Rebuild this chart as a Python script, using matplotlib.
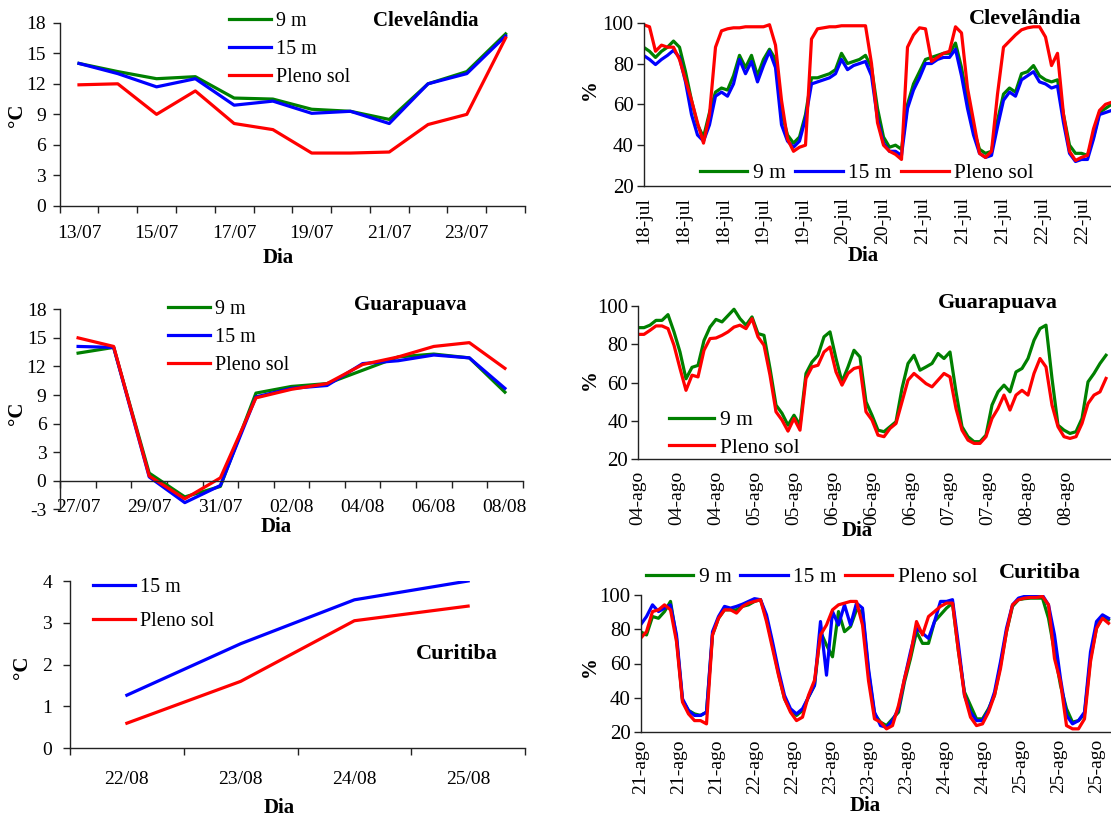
import numpy as np
import matplotlib
matplotlib.use('Agg')
import matplotlib.pyplot as plt

plt.rcParams['font.family'] = ['Liberation Serif', 'DejaVu Serif']
plt.rcParams['axes.unicode_minus'] = False

W, H = 1111, 819
VERDE = '#008000'
AZUL = '#0000ff'
VERMELHO = '#ff0000'

# --- temperatura media diaria (graficos da esquerda) ---
cle_dias = ['13/07', '14/07', '15/07', '16/07', '17/07', '18/07',
            '19/07', '20/07', '21/07', '22/07', '23/07', '24/07']
cle_t9 = [14.0, 13.2, 12.5, 12.7, 10.6, 10.5, 9.5, 9.3, 8.5, 12.0, 13.2, 16.9]
cle_t15 = [14.0, 13.0, 11.7, 12.5, 9.9, 10.3, 9.1, 9.3, 8.1, 12.0, 13.0, 16.7]
cle_tsol = [11.9, 12.0, 9.0, 11.3, 8.1, 7.5, 5.2, 5.2, 5.3, 8.0, 9.0, 16.5]

gua_dias = ['27/07', '28/07', '29/07', '30/07', '31/07', '01/08', '02/08',
            '03/08', '04/08', '05/08', '06/08', '07/08', '08/08']
gua_t9 = [13.4, 14.0, 0.8, -1.7, -0.6, 9.2, 9.9, 10.2, 11.6, 13.0, 13.3, 12.9, 9.3]
gua_t15 = [14.1, 14.0, 0.4, -2.3, -0.5, 8.8, 9.7, 10.0, 12.3, 12.6, 13.2, 12.9, 9.7]
gua_tsol = [15.0, 14.1, 0.5, -1.9, 0.3, 8.7, 9.6, 10.2, 12.2, 13.0, 14.1, 14.5, 11.8]

cur_dias = ['22/08', '23/08', '24/08', '25/08']
cur_t15 = [1.27, 2.5, 3.55, 4.0]
cur_tsol = [0.6, 1.6, 3.05, 3.4]

# --- umidade relativa (graficos da direita), leituras em sequencia ---
cle_rot = ['18-jul', '18-jul', '18-jul', '19-jul', '19-jul', '20-jul',
           '20-jul', '21-jul', '21-jul', '21-jul', '22-jul', '22-jul']
cle_ur9 = [88, 86, 83, 86, 88, 91, 88, 76, 62, 50, 44, 56, 66, 68, 67, 74, 84, 78, 84, 74,
           82, 87, 82, 56, 45, 41, 44, 55, 73, 73, 74, 75, 77, 85, 80, 81, 82, 84, 78, 58,
           44, 39, 40, 38, 60, 70, 76, 82, 83, 84, 85, 85, 90, 78, 62, 48, 38, 36, 37, 52,
           65, 68, 66, 75, 76, 79, 74, 72, 71, 72, 55, 40, 36, 36, 35, 44, 56, 58, 60]
cle_ur15 = [84, 82, 79.5, 82, 84, 86.5, 83, 71, 55, 45, 42, 50, 64, 66, 64, 70, 82, 75, 81, 71,
            79, 86, 78, 50, 42, 39, 42, 53, 70, 71, 72, 73, 75, 82, 77, 79, 80, 81, 74, 53,
            41, 37, 37, 35, 58, 67, 73, 80, 80, 82, 83, 83, 87, 74, 58, 45, 36, 34, 35, 49,
            62, 66, 64, 72, 74, 76, 71, 70, 68, 69, 51, 36, 32, 33, 33, 43, 55, 56, 57]
cle_ursol = [99, 98, 86, 89, 88, 88, 82, 72, 62, 51, 41, 55, 88, 96, 97, 97.5, 97.5, 98, 98, 98,
             98, 99, 89, 62, 43, 37, 39, 40, 92, 97, 97.5, 98, 98, 98.5, 98.5, 98.5, 98.5, 98.5, 80, 51,
             40, 37, 35.5, 33, 88, 94, 97.5, 97, 81, 83, 85, 86, 98, 95, 68, 52, 36, 34, 37, 65,
             88, 91, 94, 96.5, 97.5, 98, 98, 93, 79, 85, 55, 37, 32.5, 34, 35, 48, 57, 60, 61]

gua_rot = ['04-ago', '04-ago', '04-ago', '05-ago', '05-ago', '06-ago',
           '06-ago', '06-ago', '07-ago', '07-ago', '08-ago', '08-ago']
gua_ur9 = [88.7, 88.7, 90, 92.5, 92.5, 95.5, 86.5, 76, 62, 68, 69, 82, 89, 93, 91.7, 95, 98.3, 93.4, 90, 94.3,
           85.6, 84.7, 67.4, 48.3, 44, 37.8, 43, 37.8, 64.8, 70.8, 74.3, 83.9, 86.5, 72.6, 60.4, 68.2, 76.9, 73.4, 50, 43,
           35.2, 34.4, 37, 39.6, 57, 70, 74.3, 66.5, 68.2, 70, 75.2, 72.6, 76, 55.2, 37, 31.8, 29.2, 29.2, 32.6, 48.3,
           55.2, 58.7, 55.2, 65.6, 67.4, 72.6, 82.1, 88.2, 90, 62.2, 37.8, 35.2, 33.5, 34.4, 41.3, 60.4, 64.8, 70, 74.3]
gua_ursol = [85.2, 85.2, 87.3, 89.6, 89.6, 88.2, 79.5, 67.4, 56, 63.9, 63, 76.9, 83, 83.3, 84.7, 86.5, 89, 90, 88.2, 93.4,
             83.9, 79.5, 63.9, 44.8, 40.5, 34.7, 41.3, 35.2, 62.2, 68.2, 69.1, 76, 78.6, 65.6, 58.7, 64.8, 67.4, 68.2, 44.8, 40.5,
             32.6, 31.8, 36.1, 38.7, 50, 61.3, 64.8, 62.2, 59.5, 57.8, 61.3, 64.8, 63, 46.5, 35.2, 30, 28.3, 28.3, 31.8, 41.3,
             46.5, 53.5, 45.7, 53.5, 56, 53.5, 64.8, 72.6, 68.2, 48.3, 37, 31.8, 30.9, 31.8, 38.7, 49.1, 53.5, 55.2, 62.2]

cur_rot = ['21-ago', '21-ago', '21-ago', '22-ago', '22-ago', '23-ago', '23-ago',
           '23-ago', '24-ago', '24-ago', '25-ago', '25-ago', '25-ago']
cur_ur9 = [78.5, 76.6, 87.3, 86.3, 90.2, 96.1, 74.6, 38.5, 32.7, 30.7, 29.8, 31.7, 76.6, 86.3, 91.2, 91.2, 91.2, 93.2, 94.1, 96.1,
           97.1, 86.3, 70.7, 54.1, 39.5, 32.7, 29.8, 32.7, 40.5, 47.3, 78.5, 70.7, 63.9, 90.2, 78.5, 81.5, 91.2, 90.2, 55.1, 30.7,
           25.9, 23.9, 27.8, 31.7, 49.3, 62.9, 78.5, 71.7, 71.7, 84.4, 88.3, 92.2, 95.1, 66.8, 43.4, 35.6, 27.8, 27.8, 33.7, 41.5,
           59, 78.5, 93.2, 97.1, 97.7, 98, 98, 98, 86.3, 66.8, 47.3, 33.7, 25.9, 26.8, 30.7, 62.9, 80.5, 87.3, 85.4]
cur_ur15 = [82.4, 87.3, 94.1, 90.2, 92.2, 94.1, 76.6, 39.5, 32.7, 29.8, 29.8, 31.7, 78.5, 87.3, 93.2, 92.2, 93.2, 94.5, 96.1, 97.7,
            97.1, 88.3, 72.7, 56.1, 41.5, 33.7, 30.7, 33.7, 40.5, 47.3, 84.4, 53.2, 90.2, 82.4, 94.1, 82.4, 95.1, 92.2, 57.1, 31.7,
            23.9, 22.9, 26.8, 33.7, 51.2, 66.8, 80.5, 77.6, 74.6, 84.4, 96.1, 96.1, 97.1, 70.7, 41.5, 31.7, 26.8, 26.8, 32.7, 43.4,
            61, 80.5, 94.1, 98, 99, 99.6, 99.6, 99.6, 94.1, 76.6, 51.2, 29.8, 24.9, 26.8, 31.7, 66.8, 84.4, 88.3, 86.3]
cur_ursol = [74.6, 78.5, 90.2, 91.2, 94.1, 91.2, 72.7, 37.6, 30.7, 26.8, 26.8, 24.9, 76.6, 86.3, 91.2, 91.2, 89.3, 93.2, 95.1, 96.1,
             97.1, 84.4, 68.8, 53.2, 39.5, 31.7, 26.8, 28.8, 41.5, 50.2, 76.6, 82.4, 91.2, 94.1, 95.1, 96.1, 96.1, 82.4, 50, 27.8,
             25.9, 22, 23.9, 35.6, 51.2, 64.9, 84.4, 76.6, 87.3, 90.2, 93.2, 95.1, 95.1, 66.8, 41.5, 28.8, 23.9, 24.9, 31.7, 41.5,
             57.1, 78.5, 94.1, 97.1, 98, 98.4, 98.4, 99, 94.1, 62.9, 49.3, 23.9, 22, 22, 27.8, 61, 80.5, 86.3, 83.4]

fig = plt.figure(figsize=(W / 100, H / 100), dpi=100)


def caixa(left, top, right, bottom):
    return fig.add_axes([left / W, 1 - bottom / H, (right - left) / W, (bottom - top) / H])


def texto(x, y, s, **kw):
    fig.text(x / W, 1 - y / H, s, ha='center', va='center', **kw)


def estilo(ax, ypad, fs):
    for s in ['top', 'right']:
        ax.spines[s].set_visible(False)
    for s in ['left', 'bottom']:
        ax.spines[s].set_linewidth(1.0)
        ax.spines[s].set_color('#222222')
    ax.tick_params(labelsize=fs, length=5, width=1, direction='out', colors='#222222')
    ax.tick_params(axis='y', pad=ypad)
    ax.tick_params(labelcolor='black')


def legenda(ax, x, y, fs, ncol=1, spacing=0.5, colsp=0.6, hl=2.2):
    ax.legend(loc='upper left', bbox_to_anchor=(x / W, 1 - y / H), bbox_transform=fig.transFigure,
              frameon=False, fontsize=fs, ncol=ncol, handlelength=hl, handletextpad=0.25,
              labelspacing=spacing, columnspacing=colsp, borderpad=0, borderaxespad=0)


def painel_temp(ax, dias, series, yticks, passo, pad):
    x = np.arange(len(dias))
    for vals, cor, nome in series:
        ax.plot(x, vals, color=cor, lw=2.3, label=nome)
    ax.set_xlim(-0.5, len(dias) - 0.5)
    ax.set_ylim(yticks[0], yticks[-1])
    ax.set_yticks(yticks)
    ax.set_xticks(np.arange(len(dias) + 1) - 0.5)
    ax.set_xticklabels([])
    ax.set_xticks(x[::passo], minor=True)
    ax.set_xticklabels(dias[::passo], minor=True)
    ax.tick_params(axis='x', which='minor', length=0, pad=pad, labelsize=14)


def painel_ur(ax, series, rotulos, passo_tick, xmax, pad):
    for vals, cor, nome in series:
        ax.plot(np.arange(len(vals)), vals, color=cor, lw=2.3, label=nome)
    ax.set_xlim(0, xmax)
    ax.set_ylim(20, 100)
    ax.set_yticks(range(20, 101, 20))
    ax.set_xticks(np.arange(len(rotulos)) * passo_tick)
    ax.set_xticklabels(rotulos, rotation=90)
    ax.tick_params(axis='x', length=0, pad=pad, labelsize=14)


bold = dict(fontsize=15, fontweight='bold')
bold_dir = dict(fontsize=16, fontweight='bold')

# Clevelandia - temperatura
ax1 = caixa(59.6, 22.7, 525, 206)
estilo(ax1, 5, 14)
painel_temp(ax1, cle_dias, [(cle_t9, VERDE, '9 m'), (cle_t15, AZUL, '15 m'), (cle_tsol, VERMELHO, 'Pleno sol')],
            np.arange(0, 19, 3), 2, 14)
legenda(ax1, 229, 12, 14.5, spacing=0.45, hl=2.1)
texto(426, 21, 'Clevelândia', **bold)
texto(17, 115, '°C', rotation=90, **bold)
texto(278, 258, 'Dia', **bold)

# Clevelandia - umidade
ax2 = caixa(643.5, 22.7, W, 186)
estilo(ax2, 2, 15)
painel_ur(ax2, [(cle_ur9, VERDE, '9 m'), (cle_ur15, AZUL, '15 m'), (cle_ursol, VERMELHO, 'Pleno sol')],
          cle_rot, 39.9 / 6, (W - 643.5) / 6, 8)
legenda(ax2, 700, 163, 15.5, ncol=3, colsp=0.45, hl=2.2)
texto(1025, 19, 'Clevelândia', **bold_dir)
texto(590, 90, '%', rotation=90, **bold)
texto(863, 256, 'Dia', **bold)

# Guarapuava - temperatura
ax3 = caixa(60.3, 309.3, 522.7, 509.3)
estilo(ax3, 5, 14)
painel_temp(ax3, gua_dias, [(gua_t9, VERDE, '9 m'), (gua_t15, AZUL, '15 m'), (gua_tsol, VERMELHO, 'Pleno sol')],
            np.arange(-3, 19, 3), 2, 13)
ax3.spines['bottom'].set_position(('data', 0))
legenda(ax3, 168, 300, 14.5, spacing=0.45, hl=2.1)
texto(410, 305, 'Guarapuava', **bold)
texto(17, 413, '°C', rotation=90, **bold)
texto(276, 527, 'Dia', **bold)

# Guarapuava - umidade
ax4 = caixa(638, 306, W, 459.3)
estilo(ax4, 2, 15)
painel_ur(ax4, [(gua_ur9, VERDE, '9 m'), (gua_ursol, VERMELHO, 'Pleno sol')],
          gua_rot, 38.9 / 6, (W - 638) / 6, 8)
legenda(ax4, 669, 410, 15.5, spacing=0.35, hl=2.1)
texto(998, 303, 'Guarapuava', **bold_dir)
texto(590, 380, '%', rotation=90, **bold)
texto(857, 531, 'Dia', **bold)

# Curitiba - temperatura
ax5 = caixa(70, 581, 525, 748.3)
estilo(ax5, 8, 14)
painel_temp(ax5, cur_dias, [(cur_t15, AZUL, '15 m'), (cur_tsol, VERMELHO, 'Pleno sol')],
            np.arange(0, 5, 1), 1, 16)
legenda(ax5, 93, 578, 14.5, spacing=0.75, hl=2.1)
texto(457, 654, 'Curitiba', **bold_dir)
texto(22, 667, '°C', rotation=90, **bold)
texto(279, 808, 'Dia', **bold)

# Curitiba - umidade
ax6 = caixa(640.5, 594.7, W, 732.3)
estilo(ax6, 2, 15)
painel_ur(ax6, [(cur_ur9, VERDE, '9 m'), (cur_ur15, AZUL, '15 m'), (cur_ursol, VERMELHO, 'Pleno sol')],
          cur_rot, 38.0 / 6, (W - 640.5) / 6, 5)
legenda(ax6, 646, 567, 15.5, ncol=3, colsp=0.4, hl=2.2)
texto(1040, 573, 'Curitiba', **bold_dir)
texto(590, 667, '%', rotation=90, **bold)
texto(865, 806, 'Dia', **bold)

fig.savefig('out.png', dpi=100)
